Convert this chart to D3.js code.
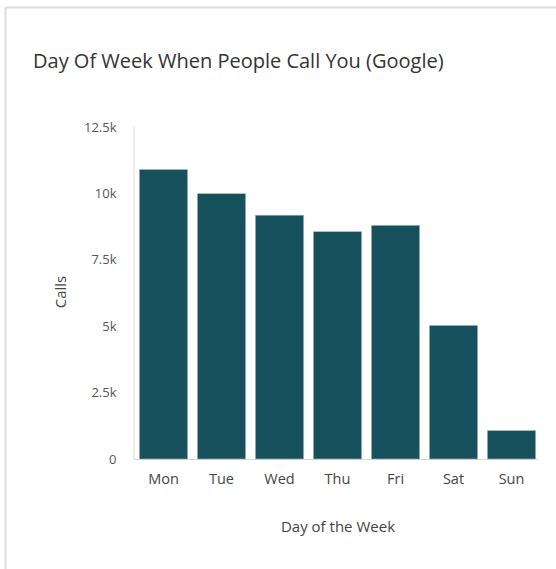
<!DOCTYPE html>
<html>
<head>
<meta charset="utf-8">
<script src="https://cdn.jsdelivr.net/npm/d3@7"></script>
<style>
  html, body { margin: 0; padding: 0; background: #fff; }
  svg { display: block; font-family: "Open Sans", sans-serif; }
</style>
</head>
<body>
<svg id="chart" width="556" height="569"></svg>
<script>
const title = "Day Of Week When People Call You (Google)";
const xTitle = "Day of the Week";
const yTitle = "Calls";
const days = ["Mon", "Tue", "Wed", "Thu", "Fri", "Sat", "Sun"];
const calls = [10900, 9990, 9180, 8560, 8800, 5030, 1070];
const yTicks = [0, 2500, 5000, 7500, 10000, 12500];
const yTickLabels = ["0", "2.5k", "5k", "7.5k", "10k", "12.5k"];

const svg = d3.select("#chart");

// card border (top and left visible)
svg.append("line").attr("x1", 5.5).attr("x2", 556).attr("y1", 7.5).attr("y2", 7.5)
  .attr("stroke", "#dcdcdc").attr("stroke-width", 2);
svg.append("line").attr("x1", 5.5).attr("x2", 5.5).attr("y1", 7.5).attr("y2", 569)
  .attr("stroke", "#dcdcdc").attr("stroke-width", 2);

svg.append("text").attr("x", 33).attr("y", 67.5)
  .attr("font-size", 20).attr("fill", "#333").text(title);

const x = d3.scaleBand().domain(days).range([134.5, 540.5]).paddingInner(0.166).paddingOuter(0.083);
const y = d3.scaleLinear().domain([0, 12500]).range([459, 127]);

// axis lines
svg.append("line").attr("x1", 134).attr("x2", 134).attr("y1", 127).attr("y2", 459.5)
  .attr("stroke", "#d6d6d6").attr("stroke-width", 1);
svg.append("line").attr("x1", 134).attr("x2", 538).attr("y1", 459.5).attr("y2", 459.5)
  .attr("stroke", "#d6d6d6").attr("stroke-width", 1);

// bars
svg.append("g").selectAll("rect").data(days).join("rect")
  .attr("x", d => x(d))
  .attr("y", (d, i) => y(calls[i]))
  .attr("width", x.bandwidth())
  .attr("height", (d, i) => y(0) - y(calls[i]))
  .attr("fill", "#17505d")
  .attr("stroke", "#a9c0c5")
  .attr("stroke-width", 0.6);

// y axis labels
const yAxis = d3.axisLeft(y).tickValues(yTicks).tickFormat((d, i) => yTickLabels[i]).tickSize(0).tickPadding(0);
const gy = svg.append("g").attr("transform", "translate(116.5,0)").call(yAxis);
gy.select(".domain").remove();
gy.selectAll("text").attr("font-size", 13).attr("fill", "#555").attr("font-family", "Open Sans, sans-serif");

// x axis labels
const xAxis = d3.axisBottom(x).tickSize(0).tickPadding(0);
const gx = svg.append("g").attr("transform", "translate(0,473.5)").call(xAxis);
gx.select(".domain").remove();
gx.selectAll("text").attr("font-size", 14.5).attr("fill", "#444").attr("font-family", "Open Sans, sans-serif");

// axis titles
svg.append("text").attr("x", 338).attr("y", 531.5).attr("text-anchor", "middle")
  .attr("font-size", 15).attr("fill", "#444").text(xTitle);
svg.append("text").attr("transform", "translate(66,292) rotate(-90)").attr("text-anchor", "middle")
  .attr("font-size", 15).attr("fill", "#444").text(yTitle);
</script>
</body>
</html>
